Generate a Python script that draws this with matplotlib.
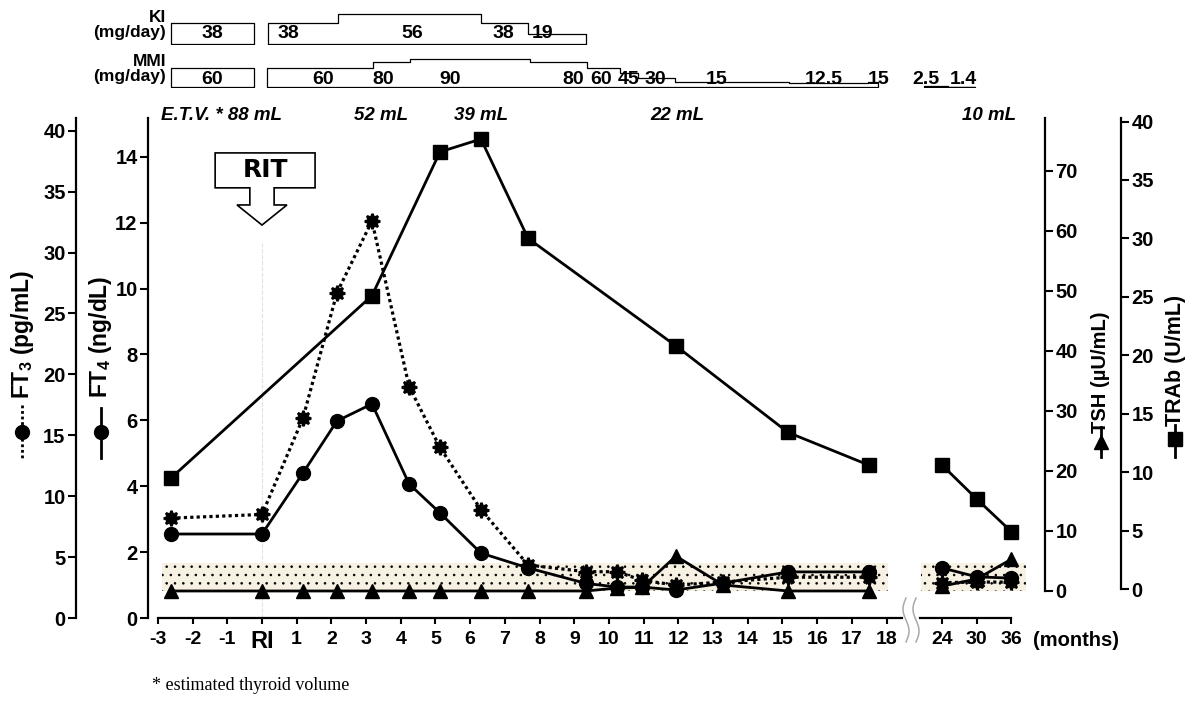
import matplotlib
matplotlib.use('Agg')
import matplotlib.pyplot as plt
import numpy as np
from matplotlib.lines import Line2D
from matplotlib.patches import Polygon
from matplotlib.transforms import blended_transform_factory

plt.rcParams['font.family'] = ['Liberation Sans', 'DejaVu Sans']
plt.rcParams['font.weight'] = 'bold'
plt.rcParams['hatch.linewidth'] = 0.6
plt.rcParams['mathtext.fontset'] = 'custom'
plt.rcParams['mathtext.rm'] = 'Liberation Sans:bold'
plt.rcParams['mathtext.bf'] = 'Liberation Sans:bold'

W, H = 1191, 711

# months after RI (0 = RI)
t = np.array([-2.62, 0, 1.18, 2.16, 3.17, 4.24, 5.13, 6.31, 7.67, 9.34, 10.23,
              10.95, 11.93, 13.29, 15.16, 17.49, 24, 30, 36])
ft4 = np.array([2.55, 2.55, 4.40, 5.98, 6.50, 4.07, 3.19, 1.97, 1.52, 1.05, 0.94,
                0.94, 0.85, 1.06, 1.40, 1.40, 1.52, 1.25, 1.21])
ft3 = np.array([8.2, 8.5, 16.4, 26.7, 32.6, 19.0, 14.0, 8.9, 4.35, 3.8, 3.8,
                3.1, 2.7, 2.95, 3.35, 3.35, 2.9, 2.95, 2.95])
tsh = np.array([0, 0, 0, 0, 0, 0, 0, 0, 0, 0, 0.5,
                0.6, 5.8, 1.0, 0, 0, 0.8, 2.0, 5.3])
trab_t = np.array([-2.62, 3.17, 5.13, 6.31, 7.67, 11.93, 15.16, 17.49, 24, 30, 36])
trab = np.array([9.5, 25.1, 37.4, 38.5, 30.0, 20.8, 13.4, 10.6, 10.6, 7.7, 4.9])

# drug doses (mg/day), step changes
ki_t1, ki_d1 = [-2.62, -0.23], [38]
ki_t2, ki_d2 = [0.17, 2.19, 6.31, 7.67, 9.34], [38, 56, 38, 19]
mmi_t1, mmi_d1 = [-2.62, -0.23], [60]
mmi_t2 = [0.14, 3.2, 4.27, 7.72, 9.37, 10.32, 10.84, 11.9, 15.2, 17.46, 17.75]
mmi_d2 = [60, 80, 90, 80, 60, 45, 30, 15, 12.5, 15]
mmi_t3, mmi_d3 = [22.1, 25.0, 29.7], [2.5, 1.4]
ki_lab_t = [-1.44, 0.75, 4.32, 6.95, 8.1]
ki_lab = ['38', '38', '56', '38', '19']
mmi_lab_t = [-1.44, 1.76, 3.49, 5.42, 8.96, 9.77, 10.58, 11.33, 13.11, 16.2, 17.78, 22.26, 27.6]
mmi_lab = ['60', '60', '80', '90', '80', '60', '45', '30', '15', '12.5', '15', '2.5', '1.4']

# thyroid volume
etv_t = [-1.18, 3.43, 6.31, 11.96, 32.2]
etv_lab = ['E.T.V. * 88 mL', '52 mL', '39 mL', '22 mL', '10 mL']

ft4_norm = (0.82, 1.67)
xticks = list(range(-3, 19)) + [24, 30, 36]
xlabels = [str(v) if v != 0 else 'RI' for v in xticks]


# broken time axis: -3..18 linear, 24..36 compressed
def fwd(m):
    m = np.asarray(m, float)
    return np.where(m <= 18, m, np.where(m >= 24, 19.6 + (m - 24) / 6, 18 + (m - 18) * 1.6 / 6))


def inv(p):
    p = np.asarray(p, float)
    return np.where(p <= 18, p, np.where(p >= 19.6, 24 + (p - 19.6) * 6, 18 + (p - 18) * 6 / 1.6))


def rect(x0, y0, x1, y1):
    return [x0 / W, 1 - y1 / H, (x1 - x0) / W, (y1 - y0) / H]


def fx(x):
    return x / W


def fy(y):
    return 1 - y / H


fig = plt.figure(figsize=(W / 100, H / 100), dpi=100)
ax = fig.add_axes(rect(148, 118, 1045, 618))
ax.set_xscale('function', functions=(fwd, inv))
ax.set_xlim(-3.285, 41.8)
ax.set_ylim(0, 15.18)
for s in ['top', 'right', 'bottom']:
    ax.spines[s].set_visible(False)
ax.spines['left'].set_linewidth(1.6)

ax3 = ax.twinx()
ax3.set_ylim(0, 41.05)
axT = ax.twinx()
axT.set_ylim(-4.5, 78.8)
axR = ax.twinx()
axR.set_ylim(-2.48, 40.3)
for a in [ax3, axT, axR]:
    for s in ['top', 'bottom', 'left', 'right']:
        a.spines[s].set_visible(False)
ax3.spines['left'].set_visible(True)
ax3.spines['left'].set_position(('outward', 72 * 0.72))
ax3.yaxis.tick_left()
axT.spines['right'].set_visible(True)
axT.spines['right'].set_bounds(0, 78.8)
axR.spines['right'].set_visible(True)
axR.spines['right'].set_position(('outward', 76 * 0.72))
axR.spines['right'].set_bounds(0, 40.3)
for a in [ax3, axT, axR]:
    for s in a.spines.values():
        s.set_linewidth(1.6)

ax.set_yticks(range(0, 15, 2))
ax3.set_yticks(range(0, 41, 5))
axT.set_yticks(range(0, 71, 10))
axR.set_yticks(range(0, 41, 5))
for a in [ax, ax3, axT, axR]:
    a.tick_params(axis='y', direction='out', length=5.5, width=1.5, labelsize=14.5, pad=2)

ax.set_xticks(xticks)
ax.set_xticklabels(xlabels)
ax.tick_params(axis='x', direction='out', length=4, width=1.5, labelsize=14, pad=5)
for lab in ax.get_xticklabels():
    if lab.get_text() == 'RI':
        lab.set_fontsize(17)

# broken x axis line
ax.plot([-3, 19.65], [0, 0], color='k', lw=1.6, clip_on=False)
ax.plot([21.6, 36], [0, 0], color='k', lw=1.6, clip_on=False)
for xc in [906, 916]:
    yy = np.linspace(598, 642, 50)
    xx = xc - 3 * np.sin(2 * np.pi * (yy - 598) / 44)
    fig.add_artist(Line2D(fx(xx), fy(yy), transform=fig.transFigure, color='#aaaaaa', lw=1.1))

# normal range
for x0, x1 in [(-2.88, 18.15), (21.7, 38.5)]:
    ax.fill_between([x0, x1], ft4_norm[0], ft4_norm[1], facecolor='#f7f1e3', lw=0, zorder=1)
    ax.fill_between([x0, x1], ft4_norm[0], ft4_norm[1], facecolor='none', edgecolor='k',
                    hatch='..', lw=0, zorder=1.1)

ax.plot([0, 0], [0, 11.39], color='#e0e0e0', lw=0.8, ls='--', zorder=0.5)

early = t <= 18
late = t >= 24
for m in [early, late]:
    ax3.plot(t[m], ft3[m], color='k', ls=(0, (1, 1)), lw=2.3, marker=(8, 1, 0), ms=11,
             mew=1.8, zorder=3)
    ax.plot(t[m], ft4[m], color='k', lw=2, marker='o', ms=10, zorder=3)
    axT.plot(t[m], tsh[m], color='k', lw=2, marker='^', ms=10, zorder=3)
mr1 = trab_t <= 18
mr2 = trab_t >= 24
for m in [mr1, mr2]:
    axR.plot(trab_t[m], trab[m], color='k', lw=2, marker='s', ms=10, zorder=3)

# RIT arrow
rit = Polygon([(-1.35, 14.12), (1.53, 14.12), (1.53, 13.06), (0.35, 13.06), (0.35, 12.54),
               (0.72, 12.54), (0, 11.93), (-0.72, 12.54), (-0.35, 12.54), (-0.35, 13.06),
               (-1.35, 13.06)], closed=True, facecolor='white', edgecolor='k', lw=1.2, zorder=5)
ax.add_patch(rit)
ax.text(0.09, 13.6, 'RIT', ha='center', va='center', fontsize=18, fontweight='bold',
        family='DejaVu Sans', zorder=6)

# dose panels
aki = fig.add_axes(rect(148, 4, 1045, 44), sharex=ax)
aki.set_ylim(0, 74.1)
ammi = fig.add_axes(rect(148, 52, 1045, 87), sharex=ax)
ammi.set_ylim(0, 112.9)
for a in [aki, ammi]:
    a.axis('off')


def dose(a, tt, dd):
    yv = list(dd) + [dd[-1]]
    a.fill_between(tt, yv, step='post', facecolor='white', edgecolor='k', lw=0.9)


dose(aki, ki_t1, ki_d1)
dose(aki, ki_t2, ki_d2)
dose(ammi, mmi_t1, mmi_d1)
dose(ammi, mmi_t2, mmi_d2)
dose(ammi, mmi_t3, mmi_d3)
for x, s in zip(ki_lab_t, ki_lab):
    aki.text(x, 19.4, s, ha='center', va='center', fontsize=14, fontweight='bold')
for x, s in zip(mmi_lab_t, mmi_lab):
    ammi.text(x, 22.6, s, ha='center', va='center', fontsize=14, fontweight='bold')

fig.text(fx(166), fy(18), 'KI', ha='right', va='center', fontsize=12.5)
fig.text(fx(166), fy(32), '(mg/day)', ha='right', va='center', fontsize=12.5)
fig.text(fx(166), fy(62), 'MMI', ha='right', va='center', fontsize=12.5)
fig.text(fx(166), fy(77), '(mg/day)', ha='right', va='center', fontsize=12.5)

trf = blended_transform_factory(ax.transData, fig.transFigure)
for x, s in zip(etv_t, etv_lab):
    ax.text(x, fy(116), s, transform=trf, ha='center', va='center', fontsize=13.5,
            fontweight='bold', fontstyle='italic')

# axis titles with legend glyphs
def glyph(x, y0, y1, ym, marker, ls):
    fig.add_artist(Line2D([fx(x), fx(x)], [fy(y0), fy(y1)], transform=fig.transFigure,
                          color='k', lw=2, ls=ls))
    fig.add_artist(Line2D([fx(x)], [fy(ym)], transform=fig.transFigure, color='k',
                          marker=marker, ms=10, ls='none'))


glyph(22, 405, 458, 432, 'o', (0, (1, 1)))
fig.text(fx(22), fy(335), r'FT$_\mathbf{3}$ (pg/mL)', rotation=90, ha='center', va='center',
         fontsize=16.5)
glyph(101, 408, 458, 432, 'o', '-')
fig.text(fx(101), fy(337), r'FT$_\mathbf{4}$ (ng/dL)', rotation=90, ha='center', va='center',
         fontsize=16.5)
glyph(1101, 427, 457, 442, '^', '-')
fig.text(fx(1101), fy(372), 'TSH (\u00b5U/mL)', rotation=90, ha='center', va='center', fontsize=14.5)
glyph(1175, 425, 457, 439, 's', '-')
fig.text(fx(1175), fy(360), 'TRAb (U/mL)', rotation=90, ha='center', va='center', fontsize=15.5)

fig.text(fx(1033), fy(640), '(months)', ha='left', va='center', fontsize=14.5)
fig.text(fx(152), fy(686), '* estimated thyroid volume', ha='left', va='center', fontsize=13,
         family='Liberation Serif', fontweight='normal')

fig.savefig('out.png', dpi=100)
